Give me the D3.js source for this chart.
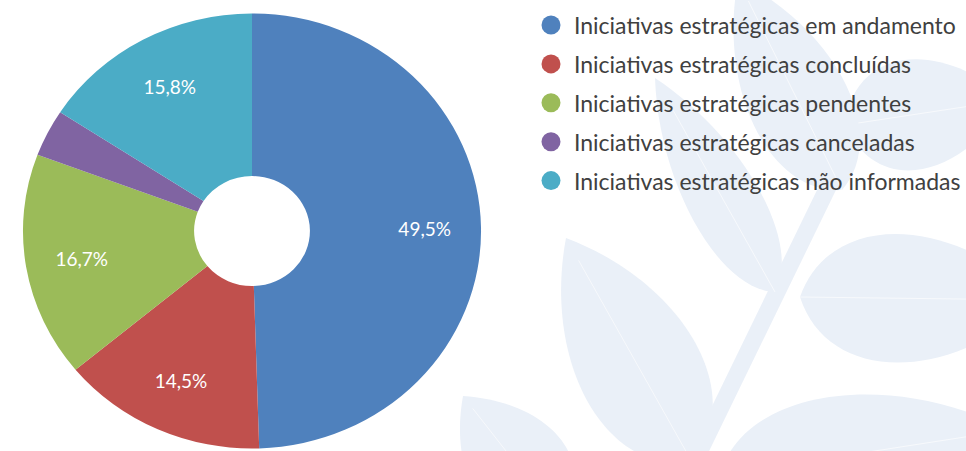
<!DOCTYPE html>
<html>
<head>
<meta charset="utf-8">
<script src="https://cdn.jsdelivr.net/npm/d3@7"></script>
<style>
  html, body { margin: 0; padding: 0; background: #fff; }
  svg { display: block; }
</style>
</head>
<body>
<div id="chart"></div>
<script>
// chart data
const categories = [
  'Iniciativas estratégicas em andamento',
  'Iniciativas estratégicas concluídas',
  'Iniciativas estratégicas pendentes',
  'Iniciativas estratégicas canceladas',
  'Iniciativas estratégicas não informadas'
]
const values = [49.5, 14.5, 16.7, 3.5, 15.8]
const colors = ['#4f81bd', '#c0504d', '#9bbb59', '#8064a2', '#4bacc6']

const width = 966
const height = 451

const svg = d3.select('#chart').append('svg')
  .attr('width', width)
  .attr('height', height)

svg.append('rect')
  .attr('width', width)
  .attr('height', height)
  .attr('fill', '#fff')

// faint leaf watermark in the background
function leafPath(bx, by, tx, ty, w) {
  let vx = tx - bx, vy = ty - by
  let len = Math.hypot(vx, vy)
  let nx = -vy / len * w * 0.67, ny = vx / len * w * 0.67
  let p = (f, s) => (bx + vx * f + nx * s) + ',' + (by + vy * f + ny * s)
  return 'M' + bx + ',' + by +
    'C' + p(0.12, 1) + ' ' + p(0.62, 1) + ' ' + tx + ',' + ty +
    'C' + p(0.62, -1) + ' ' + p(0.12, -1) + ' ' + bx + ',' + by + 'Z'
}

const leaves = [
  [775, 292, 655, 78, 72],
  [692, 462, 566, 238, 122],
  [800, 297, 1040, 300, 128],
  [720, 475, 1010, 430, 120],
  [845, 125, 1010, 100, 110],
  [842, 190, 738, -20, 100],
  [560, 520, 463, 396, 100]
]
const water = svg.append('g').attr('class', 'watermark')
water.append('line')
  .attr('x1', 688).attr('y1', 475)
  .attr('x2', 880).attr('y2', 80)
  .attr('stroke', '#eaf0f8')
  .attr('stroke-width', 17)
leaves.forEach((l) => {
  water.append('path')
    .attr('d', leafPath(...l))
    .attr('fill', '#eaf0f8')
  water.append('line')
    .attr('x1', l[0]).attr('y1', l[1])
    .attr('x2', l[0] + (l[2] - l[0]) * 0.9).attr('y2', l[1] + (l[3] - l[1]) * 0.9)
    .attr('stroke', '#f7f9fc')
    .attr('stroke-width', 1)
})

// donut
const cx = 252
const cy = 231
const outerRadius = 217.5
const innerRadius = 55
const stretchX = 1.053
const labelRadius = 164

const pie = d3.pie().sort(null).value((d) => d)
const arcs = pie(values)

const arc = d3.arc()
  .innerRadius(innerRadius)
  .outerRadius(outerRadius)

const labelArc = d3.arc()
  .innerRadius(labelRadius)
  .outerRadius(labelRadius)

svg.append('g')
  .attr('transform', 'translate(' + cx + ',' + cy + ') scale(' + stretchX + ',1)')
  .selectAll('path')
  .data(arcs)
  .enter()
  .append('path')
  .attr('d', arc)
  .attr('fill', (d, i) => colors[i])

const fmt = (v) => d3.format('.1f')(v).replace('.', ',') + '%'

svg.append('g')
  .selectAll('text')
  .data(arcs.filter((d) => d.value >= 5))
  .enter()
  .append('text')
  .attr('x', (d) => cx + labelArc.centroid(d)[0] * stretchX)
  .attr('y', (d) => cy + labelArc.centroid(d)[1])
  .attr('text-anchor', 'middle')
  .attr('dominant-baseline', 'central')
  .attr('font-family', 'Lato, sans-serif')
  .attr('font-size', 19)
  .attr('fill', '#fff')
  .text((d) => fmt(d.value))

// legend
const legendX = 551
const legendY = 25
const legendStep = 38.9

const legend = svg.append('g')
  .selectAll('g')
  .data(categories)
  .enter()
  .append('g')
  .attr('transform', (d, i) => 'translate(' + legendX + ',' + (legendY + i * legendStep) + ')')

legend.append('circle')
  .attr('r', 9.5)
  .attr('fill', (d, i) => colors[i])

legend.append('text')
  .attr('x', 23)
  .attr('dominant-baseline', 'central')
  .attr('font-family', 'Lato, sans-serif')
  .attr('font-size', 23)
  .attr('fill', '#404040')
  .text((d) => d)
</script>
</body>
</html>
